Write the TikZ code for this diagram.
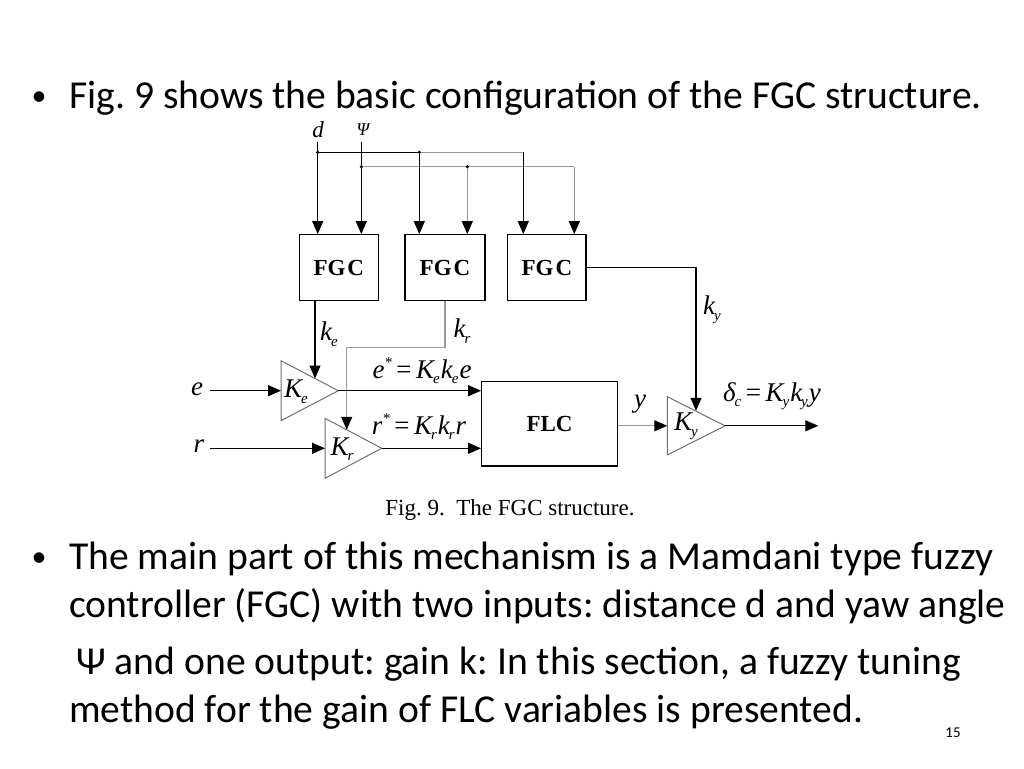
\documentclass[tikz,border=0pt]{standalone}
\usepackage{fontspec}
\setmainfont{Carlito}
\newfontfamily\tms{Liberation Serif}
\usetikzlibrary{arrows.meta}
\frenchspacing
\newcommand{\sbs}[1]{\kern-1pt\raisebox{-0.45ex}{\fontsize{15}{15}\selectfont #1}}
\newcommand{\sps}[1]{\raisebox{0.85ex}{\fontsize{15}{15}\selectfont #1}}
\definecolor{lgray}{HTML}{9A9A9A}
\definecolor{tgray}{HTML}{707070}
\begin{document}
\begin{tikzpicture}[x=1pt,y=-1pt,
  wire/.style={line width=1.3pt, draw=black},
  gwire/.style={line width=1.3pt, draw=lgray},
  arr/.style={-{Triangle[length=13pt,width=11pt,color=black]}},
  blk/.style={draw=black, line width=1.2pt, inner sep=0pt, font=\tms\bfseries\fontsize{23}{23}\selectfont},
  amp/.style={draw=tgray, line width=1pt},
  lab/.style={inner sep=0pt, font=\tms\itshape\fontsize{27}{27}\selectfont},
  slide/.style={inner sep=0pt, anchor=base west, font=\fontsize{39.6}{48}\selectfont},
  bul/.style={inner sep=0pt, anchor=base, font=\fontsize{30}{30}\selectfont},
  dot/.style={circle, fill=black, inner sep=0pt, minimum size=3.5pt}
]
\useasboundingbox[fill=white] (0,0) rectangle (1024,768);

% slide text
\node[bul] (b1) at (39,105) {\textbullet};
\node[slide] (t1) at (69,108) {Fig. 9 shows the basic configuration of the FGC structure.};
\node[bul] (b2) at (39,566) {\textbullet};
\node[slide] (t2) at (69,569) {The main part of this mechanism is a Mamdani type fuzzy};
\node[slide] (t3) at (69,617) {controller (FGC) with two inputs: distance d and yaw angle};
\node[slide] (t4) at (76,674) {Ψ and one output: gain k: In this section, a fuzzy tuning};
\node[slide] (t5) at (69,722) {method for the gain of FLC variables is presented.};
\node[inner sep=0pt, font=\fontsize{15}{15}\selectfont] (pg) at (953,733) {15};

% blocks
\node[blk, minimum width=79pt, minimum height=66pt] (f1) at (338.8,267.7) {FG\hspace{2pt}C};
\node[blk, minimum width=80pt, minimum height=66pt] (f2) at (445,267.7) {FG\hspace{2pt}C};
\node[blk, minimum width=78.3pt, minimum height=66pt] (f3) at (546.85,267.7) {FG\hspace{2pt}C};
\node[blk, minimum width=135.6pt, minimum height=84.3pt] (flc) at (549.5,423.85) {FLC};

% inputs d and Psi
\node[lab, font=\tms\itshape\fontsize{23}{23}\selectfont] (dl) at (318,130) {d};
\node[lab, font=\tms\itshape\fontsize{18}{18}\selectfont] (pl) at (363,130) {Ψ};
\coordinate (dtop) at (317.7,142);
\coordinate (ptop) at (361.3,142);
\coordinate (dj1) at (317.7,152.3);
\coordinate (dj2) at (419.3,152.3);
\coordinate (dj3) at (523.3,152.3);
\coordinate (pj1) at (361.3,166.7);
\coordinate (pj2) at (467.3,166.7);
\coordinate (pj3) at (574.3,166.7);

\draw[wire,arr] (dtop) -- (dtop |- f1.north);
\draw[wire,arr] (ptop) -- (ptop |- f1.north);
\draw[wire] (dj1) -- (dj2);
\draw[gwire] (dj2) -- (dj3);
\draw[gwire] (pj1) -- (pj3);
\draw[wire,arr] (dj2) -- (dj2 |- f2.north);
\draw[gwire,arr] (pj2) -- (pj2 |- f2.north);
\draw[wire,arr] (dj3) -- (dj3 |- f3.north);
\draw[gwire,arr] (pj3) -- (pj3 |- f3.north);
\node[dot] (o1) at (dj1) {};
\node[dot] (o2) at (dj2) {};
\node[dot] (o3) at (pj1) {};
\node[dot] (o4) at (pj2) {};

% amplifiers
\coordinate (ke1) at (281,360.7);
\coordinate (ke2) at (281,420.7);
\coordinate (kea) at (338.3,390.7);
\coordinate (kei) at (281,390.7);
\draw[amp] (ke1) -- (kea) -- (ke2) -- cycle;
\node[lab] (kel) at (296,392) {K\sbs{e}};

\coordinate (kr1) at (325,418.3);
\coordinate (kr2) at (325,478.3);
\coordinate (kra) at (381.7,448.3);
\coordinate (kri) at (325,448.3);
\draw[amp] (kr1) -- (kra) -- (kr2) -- cycle;
\node[lab] (krl) at (342,449) {K\sbs{r}};

\coordinate (ky1) at (667.3,396.7);
\coordinate (ky2) at (667.3,455);
\coordinate (kya) at (725,425.8);
\coordinate (kyi) at (667.3,425.8);
\draw[amp] (ky1) -- (kya) -- (ky2) -- cycle;
\node[lab] (kyl) at (686,426) {K\sbs{y}};

% gain lines
\coordinate (kes) at (315,300.7);
\coordinate (ket) at (315,378.5);
\draw[wire,arr] (kes) -- (ket);
\node[lab] (kel2) at (329,334) {k\sbs{e}};

\coordinate (krc1) at (445,347.3);
\coordinate (krc2) at (346.7,347.3);
\coordinate (krt) at (346.7,429.8);
\draw[gwire,arr] (f2.south) -- (krc1) -- (krc2) -- (krt);
\node[lab] (krl2) at (462,331) {k\sbs{r}};

\coordinate (kyc) at (696,267.7);
\coordinate (kyt) at (696,410.8);
\draw[wire,arr] (f3.east) -- (kyc) -- (kyt);
\node[lab] (kyl2) at (712,310) {k\sbs{y}};

% signal lines
\coordinate (ein) at (210,390.7);
\coordinate (rin) at (210,448.3);
\node[lab] (el) at (197,389) {e};
\node[lab] (rl) at (199,446) {r};
\draw[wire,arr] (ein) -- (kei);
\draw[wire,arr] (rin) -- (kri);
\draw[wire,arr] (kea) -- (kea -| flc.west);
\draw[wire,arr] (kra) -- (kra -| flc.west);
\draw[gwire,arr] (flc.east |- kyi) -- (kyi);
\coordinate (out) at (818.3,425.8);
\draw[wire,arr] (kya) -- (out);

\node[lab] (esl) at (422,371) {e\sps{*}\,{\upshape=}\,K\sbs{e}\kern1pt k\sbs{e}\kern1pt e};
\node[lab] (rsl) at (419,427) {r\sps{*}\,{\upshape=}\,K\sbs{r}\kern1pt k\sbs{r}\kern1pt r};
\node[lab] (yl) at (640,404) {y};
\node[lab] (dcl) at (772,396) {δ\sbs{c}\,{\upshape=}\,K\sbs{y}\kern1pt k\sbs{y}\kern1pt y};

\node[inner sep=0pt, font=\tms\fontsize{23}{23}\selectfont] (cap) at (510,510) {Fig. 9.\ \ The FGC structure.};
\end{tikzpicture}
\end{document}
